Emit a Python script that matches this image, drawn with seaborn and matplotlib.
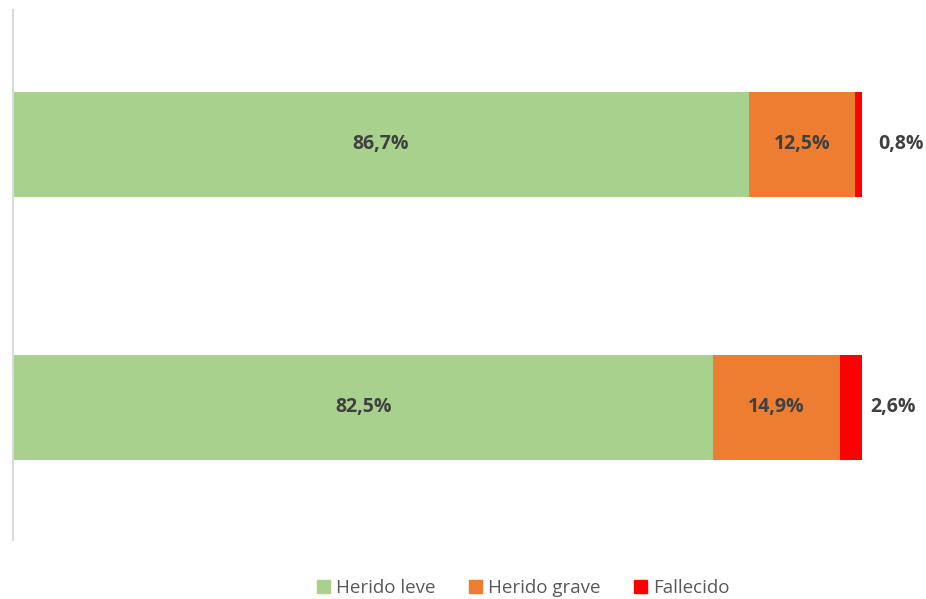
import matplotlib.pyplot as plt
import matplotlib.patches as mpatches
import seaborn as sns
import numpy as np
import pandas as pd

categories = ["Grupo 1", "Grupo 2"]
series = ["Herido leve", "Herido grave", "Fallecido"]
herido_leve = [86.7, 82.5]
herido_grave = [12.5, 14.9]
fallecido = [0.8, 2.6]
colors = ["#A9D18E", "#ED7D31", "#FF0000"]

sns.set_style("white")
plt.rcParams['font.family'] = ['Open Sans', 'DejaVu Sans']

fig = plt.figure(figsize=(9.26, 5.99), dpi=100)
ax = fig.add_axes([13 / 926, 59 / 599, (862 - 13) / 926, 530 / 599])

vals = np.array([herido_leve, herido_grave, fallecido])
cum = np.cumsum(vals, axis=0)

# draw cumulative totals back to front so the stacks show through
for i in reversed(range(len(series))):
    df = pd.DataFrame({"cat": categories, "val": cum[i]})
    sns.barplot(data=df, x="val", y="cat", color=colors[i], width=0.4,
                saturation=1, ax=ax, orient="h", linewidth=0)

label_offsets = [16, 8]  # pixel gap of the outside labels
for j in range(len(categories)):
    starts = cum[:, j] - vals[:, j]
    for i in range(2):
        ax.text(starts[i] + vals[i, j] / 2, j, f"{vals[i, j]:.1f}%".replace(".", ","),
                ha="center", va="center", fontsize=14, fontweight="bold", color="#404040")
    ax.annotate(f"{vals[2, j]:.1f}%".replace(".", ","), (cum[2, j], j),
                xytext=(label_offsets[j], 0), textcoords="offset pixels",
                ha="left", va="center", fontsize=14, fontweight="bold", color="#404040",
                annotation_clip=False)

ax.set_xlim(0, 100)
ax.set_ylim(1.505, -0.51)
ax.set_xlabel("")
ax.set_ylabel("")
ax.set_xticks([])
ax.set_yticks([])
for s in ["top", "right", "bottom"]:
    ax.spines[s].set_visible(False)
ax.spines["left"].set_color("#D9D9D9")
ax.spines["left"].set_linewidth(1.5)

handles = [mpatches.Patch(color=c, label=s) for c, s in zip(colors, series)]
fig.legend(handles=handles, loc="center", bbox_to_anchor=(0.565, 1 - 588 / 599),
           ncol=3, frameon=False, fontsize=13.5, handlelength=0.7, handleheight=0.7,
           handletextpad=0.3, columnspacing=1.8, labelcolor="#595959")

fig.savefig("out.png", dpi=100)
